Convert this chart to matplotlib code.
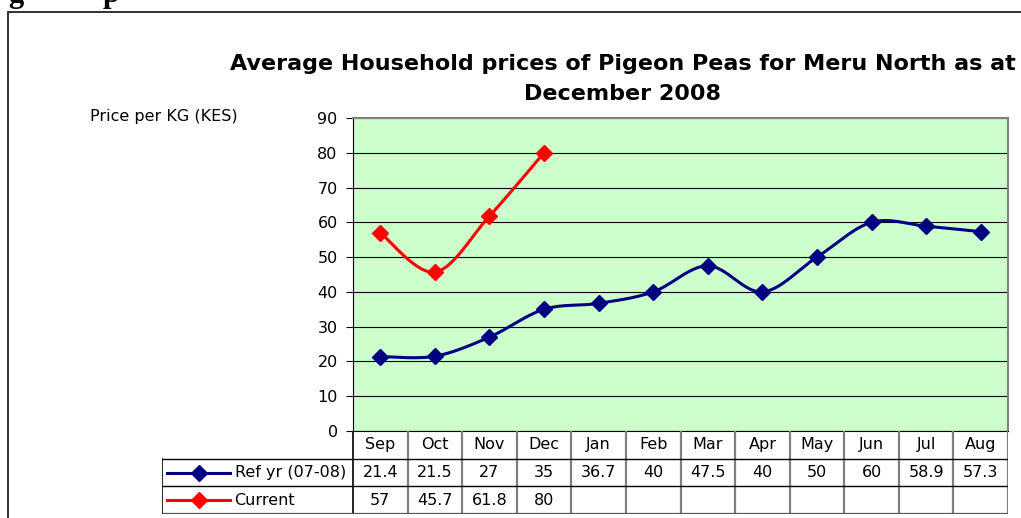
import numpy as np
import matplotlib.pyplot as plt
from matplotlib.patches import Rectangle

months = ['Sep', 'Oct', 'Nov', 'Dec', 'Jan', 'Feb', 'Mar', 'Apr', 'May', 'Jun', 'Jul', 'Aug']
ref_yr = [21.4, 21.5, 27, 35, 36.7, 40, 47.5, 40, 50, 60, 58.9, 57.3]
current = [57, 45.7, 61.8, 80]
series_names = ['Ref yr (07-08)', 'Current']
series_colors = ['#000080', '#FF0000']
y_ticks = list(range(0, 91, 10))

W, H = 1021, 518


def px(x, y):
    # pixel position -> figure fraction
    return x / W, 1 - y / H


def smooth(y, n=30):
    # Excel-style smoothed line (Catmull-Rom bezier)
    y = np.asarray(y, float)
    x = np.arange(len(y), dtype=float)
    if len(y) < 3:
        return x, y
    xp = np.concatenate([[x[0]], x, [x[-1]]])
    yp = np.concatenate([[y[0]], y, [y[-1]]])
    xs, ys = [], []
    t = np.linspace(0, 1, n)
    for i in range(1, len(xp) - 2):
        p0 = np.array([xp[i], yp[i]])
        p3 = np.array([xp[i + 1], yp[i + 1]])
        p1 = p0 + (np.array([xp[i + 1], yp[i + 1]]) - np.array([xp[i - 1], yp[i - 1]])) / 6
        p2 = p3 - (np.array([xp[i + 2], yp[i + 2]]) - np.array([xp[i], yp[i]])) / 6
        b = ((1 - t) ** 3)[:, None] * p0 + (3 * (1 - t) ** 2 * t)[:, None] * p1 \
            + (3 * (1 - t) * t ** 2)[:, None] * p2 + (t ** 3)[:, None] * p3
        xs.append(b[:, 0])
        ys.append(b[:, 1])
    return np.concatenate(xs), np.concatenate(ys)


fig = plt.figure(figsize=(W / 100, H / 100), dpi=100)
fig.patch.set_facecolor('white')

# outer frame and the clipped heading above it
fig.add_artist(Rectangle(px(8, 540), (1040 - 8) / W, (540 - 12) / H, transform=fig.transFigure,
                         fill=False, edgecolor='#222222', linewidth=1.3))
fig.text(*px(8, 2), 'g', family='Liberation Serif', weight='bold', fontsize=22, va='baseline')
fig.text(*px(103, 2), 'p', family='Liberation Serif', weight='bold', fontsize=22, va='baseline')

# plot area
x0, x1, ytop, ybot = 353, 1008, 118, 431
l, b = px(x0, ybot)
ax = fig.add_axes([l, b, (x1 - x0) / W, (ybot - ytop) / H])
ax.set_facecolor('#CCFFCC')
ax.set_xlim(-0.5, 11.5)
ax.set_ylim(0, 90)
ax.set_yticks(y_ticks)
ax.set_xticks([])
ax.grid(axis='y', color='#000000', linewidth=0.8)
ax.set_axisbelow(True)
ax.tick_params(axis='y', direction='out', length=5, labelsize=11.5, pad=6)
for lab in ax.get_yticklabels():
    lab.set_family('DejaVu Sans')
ax.spines['left'].set_color('black')
ax.spines['bottom'].set_color('black')
for s in ['top', 'right']:
    ax.spines[s].set_color('#808080')
    ax.spines[s].set_linewidth(1.5)

for vals, c in zip([ref_yr, current], series_colors):
    sx, sy = smooth(vals)
    ax.plot(sx, sy, color=c, linewidth=2.2, zorder=3)
    ax.plot(range(len(vals)), vals, linestyle='none', marker='D', markersize=8,
            color=c, zorder=4)

fig.text(*px(623, 79), 'Average Household prices of Pigeon Peas for Meru North as at\nDecember 2008',
         ha='center', va='center', fontsize=16, weight='bold', family='DejaVu Sans',
         linespacing=1.62)
fig.text(*px(90, 116), 'Price per KG (KES)', fontsize=11.5, family='DejaVu Sans', va='center')

# data table below the plot area
tl = 162
tb = 514
cw = (x1 - x0) / 12
tax = fig.add_axes([*px(tl, tb), (x1 - tl) / W, (tb - ybot) / H])
tax.set_xlim(-(x0 - tl) / cw - 0.5, 11.5)
tax.set_ylim(3, 0)
tax.axis('off')
leg_l = -(x0 - tl) / cw - 0.5
tkw = dict(ha='center', va='center', fontsize=11.5, family='DejaVu Sans')
for i, m in enumerate(months):
    tax.text(i, 0.5, m, **tkw)
    tax.text(i, 1.5, '{:g}'.format(ref_yr[i]), **tkw)
    if i < len(current):
        tax.text(i, 2.5, '{:g}'.format(current[i]), **tkw)
for i in range(1, 12):
    tax.plot([i - 0.5, i - 0.5], [0, 3], color='#808080', linewidth=1.6)
tax.plot([-0.5, -0.5], [0, 3], color='black', linewidth=1.2)
tax.plot([11.5, 11.5], [0, 3], color='#808080', linewidth=1.6)
tax.plot([leg_l, 11.5], [1, 1], color='black', linewidth=1.0)
tax.plot([leg_l, 11.5], [2, 2], color='black', linewidth=1.0)
tax.plot([leg_l, 11.5], [3, 3], color='#555555', linewidth=1.6)
tax.plot([leg_l, leg_l], [1, 3], color='black', linewidth=1.2)
for r, (name, c) in enumerate(zip(series_names, series_colors)):
    yy = 1.5 + r
    tax.plot([leg_l + 0.1, leg_l + 1.25], [yy, yy], color=c, linewidth=2.2)
    tax.plot([leg_l + 0.67], [yy], marker='D', markersize=8, color=c)
    tax.text(leg_l + 1.33, yy, name, ha='left', va='center', fontsize=11.5, family='DejaVu Sans')

fig.savefig('out.png', dpi=100)
